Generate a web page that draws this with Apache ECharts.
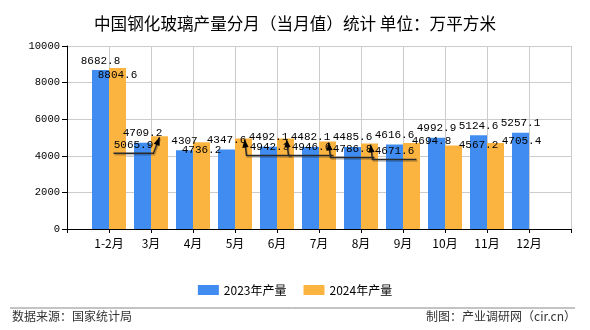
<!DOCTYPE html>
<html><head><meta charset="utf-8">
<script src="https://cdn.jsdelivr.net/npm/echarts@6/dist/echarts.min.js"></script>
<style>html,body{margin:0;padding:0;background:#fff}#c{width:590px;height:330px}</style>
</head><body><div id="c"></div>
<script>
const categories = ['1-2月','3月','4月','5月','6月','7月','8月','9月','10月','11月','12月'];
const output2023 = [8682.8, 4709.2, 4307, 4347.6, 4492.1, 4482.1, 4485.6, 4616.6, 4992.9, 5124.6, 5257.1];
const output2024 = [8804.6, 5065.9, 4736.2, 4942.3, 4946.6, 4786.8, 4671.6, 4694.8, 4567.2, 4705.4, null];
const yMin = 0, yMax = 10000, yStep = 2000;
const seriesNames = ['2023年产量', '2024年产量'];

// label nudges (style only): [dx, dy, callout arrow] for the 2024 value labels
const labelNudge2024 = [[0,0,0],[-26,1,1],[0,0,0],[26,1,1],[26,1,1],[25,0,1],[25,0,1],[20,-9,0],[25,-8,0],[26,-9,0],[0,0,0]];

// padded axis: an empty slot before and after so bars sit on ticks
const axisCats = [''].concat(categories, ['']);
const pad = arr => [null].concat(arr, [null]);

const mono = 'Liberation Mono, DejaVu Sans Mono, monospace';
const cjk = 'Noto Sans CJK SC, sans-serif';
const BAR = 17;

function calloutItem(params, api) {
  const i = params.dataIndex;
  const v = api.value(1);
  const n = labelNudge2024[i - 1];
  if (v == null || isNaN(v) || !n || !n[2]) return null;
  const p = api.coord([api.value(0), v]);
  const cx = p[0] + BAR / 2, top = p[1];
  const ly = top + 16 + n[1];
  let pts;
  if (n[0] > 0) pts = [[cx + n[0] + 22, ly], [cx + 3, ly], [cx + 1, top + 1]];
  else pts = [[cx + n[0] - 20, ly], [cx - 6, ly], [cx, top + 1]];
  const a = pts[1], b = pts[2];
  const ang = Math.atan2(b[1] - a[1], b[0] - a[0]);
  const L = 8, W = 3.2;
  const bx = b[0] - L * Math.cos(ang), by = b[1] - L * Math.sin(ang);
  const head = [b, [bx + W * Math.sin(ang), by - W * Math.cos(ang)], [bx - W * Math.sin(ang), by + W * Math.cos(ang)]];
  return {
    type: 'group',
    children: [
      {type: 'polyline', shape: {points: pts.map(q => [q[0] + 1, q[1] + 1.5])}, style: {stroke: 'rgba(0,0,0,0.25)', lineWidth: 1.5, fill: null}},
      {type: 'polyline', shape: {points: pts}, style: {stroke: '#2a2a2a', lineWidth: 1.5, fill: null}},
      {type: 'polygon', shape: {points: head}, style: {fill: '#000'}}
    ]
  };
}

const chart = echarts.init(document.getElementById('c'), null, {renderer: 'canvas'});
chart.setOption({
  animation: false,
  backgroundColor: '#fff',
  title: {
    text: '中国钢化玻璃产量分月（当月值）统计 单位：万平方米',
    left: 'center', top: 10,
    textStyle: {fontFamily: cjk, fontSize: 16.6, fontWeight: 'normal', color: '#000'}
  },
  legend: {
    top: 279, left: 'center',
    itemWidth: 21, itemHeight: 10, itemGap: 17,
    icon: 'rect',
    textStyle: {fontFamily: cjk, fontSize: 12, color: '#000'},
    data: seriesNames
  },
  grid: {left: 67, right: 19, top: 46, bottom: 101, containLabel: false},
  xAxis: {
    type: 'category', data: axisCats, boundaryGap: false,
    axisLine: {lineStyle: {color: '#000', width: 1}},
    axisTick: {show: true, length: 4, lineStyle: {color: '#000'}},
    splitLine: {show: true, lineStyle: {color: '#cccccc', width: 1}},
    axisLabel: {fontFamily: cjk, fontSize: 12, color: '#000', margin: 8, interval: 0}
  },
  yAxis: {
    type: 'value', min: yMin, max: yMax, interval: yStep,
    axisLine: {show: true, lineStyle: {color: '#000', width: 1}},
    axisTick: {show: true, length: 5, lineStyle: {color: '#000'}},
    splitLine: {show: true, lineStyle: {color: '#cccccc', width: 1}},
    axisLabel: {fontFamily: mono, fontSize: 10.5, color: '#000', margin: 7, formatter: v => String(v)}
  },
  series: [
    {
      name: seriesNames[0], type: 'bar', data: pad(output2023),
      barWidth: BAR, barGap: '0%',
      itemStyle: {color: '#418CF0'},
      label: {show: true, position: 'top', distance: 4, fontFamily: mono, fontSize: 11, color: '#000'}
    },
    {
      name: seriesNames[1], type: 'bar', data: pad(output2024),
      barWidth: BAR,
      itemStyle: {color: '#FCB441'},
      label: {show: true, position: 'insideTop', distance: 2, fontFamily: mono, fontSize: 11, color: '#000'},
      labelLayout: function (p) {
        const n = labelNudge2024[p.dataIndex - 1] || [0, 0];
        return {dx: n[0], dy: n[1]};
      }
    },
    {
      name: 'callouts', type: 'custom', z: 5,
      data: pad(output2024).map((v, i) => [i, v]),
      encode: {x: 0, y: 1},
      renderItem: calloutItem,
      silent: true, tooltip: {show: false}
    }
  ],
  graphic: [
    {type: 'line', shape: {x1: 10, y1: 308, x2: 575, y2: 308}, style: {stroke: '#888', lineWidth: 1}},
    {type: 'text', left: 12, top: 310, style: {text: '数据来源：国家统计局', font: '12px ' + cjk, fill: '#333'}},
    {type: 'text', right: 14, top: 310, style: {text: '制图：产业调研网（cir.cn）', font: '12px ' + cjk, fill: '#333'}}
  ]
});
</script></body></html>
